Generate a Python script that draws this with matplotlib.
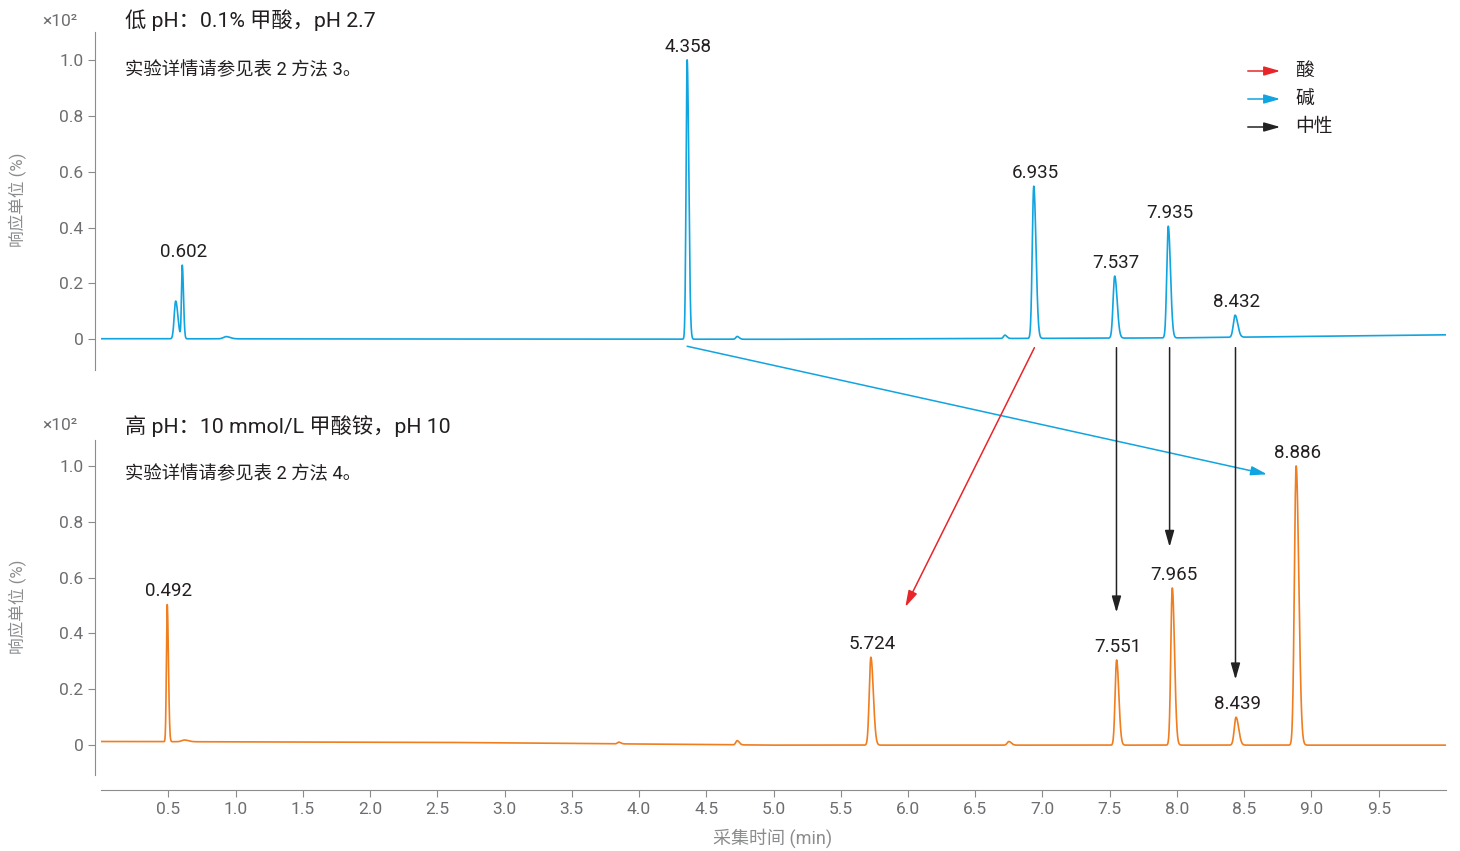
import numpy as np
import matplotlib
matplotlib.use("Agg")
import matplotlib.pyplot as plt
from matplotlib.patches import ConnectionPatch, FancyArrowPatch

plt.rcParams['font.family'] = ['Roboto', 'Noto Sans CJK SC', 'DejaVu Sans']

# === Data ===
# low pH (top): retention time (min), height (x10^2 %), peak width sigma (min)
low_rt = [0.555, 0.604, 0.93, 4.358, 4.73, 6.72, 6.935, 7.537, 7.935, 8.432]
low_h = [0.135, 0.262, 0.008, 1.0, 0.010, 0.012, 0.545, 0.222, 0.400, 0.079]
low_sig = [0.011, 0.006, 0.02, 0.008, 0.01, 0.01, 0.011, 0.012, 0.011, 0.013]
low_base_t = [0.0, 5.0, 8.0, 10.0]
low_base_v = [0.002, 0.0, 0.005, 0.016]
low_labels = ['0.602', '4.358', '6.935', '7.537', '7.935', '8.432']

# high pH (bottom)
high_rt = [0.492, 0.62, 3.85, 4.73, 5.724, 6.75, 7.551, 7.965, 8.439, 8.886]
high_h = [0.492, 0.006, 0.006, 0.015, 0.315, 0.013, 0.305, 0.563, 0.100, 1.0]
high_sig = [0.006, 0.02, 0.01, 0.01, 0.012, 0.012, 0.011, 0.011, 0.013, 0.013]
high_base_t = [0.0, 2.5, 5.0, 10.0]
high_base_v = [0.013, 0.01, 0.0, 0.0]
high_labels = ['0.492', '5.724', '7.551', '7.965', '8.439', '8.886']

# arrows: (start rt on top, start y top, end rt bottom, end y bottom, kind)
arrows = [
    (4.358, -0.025, 8.67, 0.97, 'base'),
    (6.94, -0.03, 5.98, 0.495, 'acid'),
    (7.55, -0.03, 7.55, 0.475, 'neutral'),
    (7.945, -0.03, 7.945, 0.71, 'neutral'),
    (8.435, -0.03, 8.435, 0.235, 'neutral'),
]
legend_names = ['酸', '碱', '中性']
legend_kinds = ['acid', 'base', 'neutral']

BLUE = '#10a4e0'
ORANGE = '#f07d1e'
arrow_col = {'acid': '#e8262a', 'base': '#10a4e0', 'neutral': '#222222'}
GRAY = '#6d6e71'


def trace(t, rts, hs, sigs, bt, bv):
    y = np.interp(t, bt, bv)
    for rt, h, s in zip(rts, hs, sigs):
        sl = np.where(t < rt, s, s * 1.5)  # slight tailing
        y = y + h * np.exp(-0.5 * ((t - rt) / sl) ** 2)
    return y


t = np.linspace(0, 10, 8000)
y_low = trace(t, low_rt, low_h, low_sig, low_base_t, low_base_v)
y_high = trace(t, high_rt, high_h, high_sig, high_base_t, high_base_v)

fig = plt.figure(figsize=(14.6, 8.51), dpi=100)
ax1 = fig.add_axes([0.0692, 0.5652, 0.9212, 0.3972])
ax2 = fig.add_axes([0.0692, 0.0893, 0.9212, 0.3937])


def style(ax, ylim, show_x):
    ax.set_xlim(0, 10)
    ax.set_ylim(*ylim)
    for s in ['top', 'right']:
        ax.spines[s].set_visible(False)
    ax.spines['left'].set_position(('outward', 4.3))
    ax.spines['left'].set_color('#8a8c8e')
    ax.set_yticks([0, 0.2, 0.4, 0.6, 0.8, 1.0])
    ax.set_yticklabels(['0', '0.2', '0.4', '0.6', '0.8', '1.0'])
    ax.tick_params(axis='y', colors='#8a8c8e', labelcolor=GRAY, labelsize=12.5, length=5)
    if show_x:
        ax.spines['bottom'].set_position(('outward', 10.8))
        ax.spines['bottom'].set_color('#8a8c8e')
        ax.set_xticks(np.arange(0.5, 10, 0.5))
        ax.set_xticklabels([f'{v:.1f}' for v in np.arange(0.5, 10, 0.5)])
        ax.tick_params(axis='x', colors='#8a8c8e', labelcolor=GRAY, labelsize=12.5, length=5)
    else:
        ax.spines['bottom'].set_visible(False)
        ax.set_xticks([])


style(ax1, (-0.11, 1.1), False)
style(ax2, (-0.107, 1.093), True)

ax1.plot(t, y_low, color=BLUE, lw=1.2)
ax2.plot(t, y_high, color=ORANGE, lw=1.2)

for ax, y, labels in ((ax1, y_low, low_labels), (ax2, y_high, high_labels)):
    for lab in labels:
        rt = float(lab)
        i = np.argmin(np.abs(t - rt))
        ax.annotate(lab, (rt, y[max(i - 20, 0):i + 20].max()), xytext=(1, 3),
                    textcoords='offset points', ha='center', va='bottom',
                    fontsize=13.5, color='#231f20')

for x0, y0, x1, y1, kind in arrows:
    con = ConnectionPatch(xyA=(x0, y0), coordsA=ax1.transData,
                          xyB=(x1, y1), coordsB=ax2.transData,
                          arrowstyle='-|>,head_length=0.7,head_width=0.2',
                          mutation_scale=14, color=arrow_col[kind], lw=1.1)
    fig.add_artist(con)

# legend made of arrows
for k, (name, kind) in enumerate(zip(legend_names, legend_kinds)):
    yy = (851 - 71 - 28 * k) / 851
    fig.add_artist(FancyArrowPatch((1245 / 1460, yy), (1283 / 1460, yy),
                                   transform=fig.transFigure,
                                   arrowstyle='-|>,head_length=0.7,head_width=0.2',
                                   mutation_scale=14, color=arrow_col[kind], lw=1.1))
    fig.text(1295 / 1460, yy, name, fontsize=13.5, va='center', ha='left', color='#231f20')

fig.text(125 / 1460, (851 - 20) / 851, '低 pH：0.1% 甲酸，pH 2.7', fontsize=15.3,
         va='center', ha='left', color='#231f20')
fig.text(125 / 1460, (851 - 70) / 851, '实验详情请参见表 2 方法 3。', fontsize=13.2,
         va='center', ha='left', color='#231f20')
fig.text(125 / 1460, (851 - 426) / 851, '高 pH：10 mmol/L 甲酸铵，pH 10', fontsize=15.3,
         va='center', ha='left', color='#231f20')
fig.text(125 / 1460, (851 - 474) / 851, '实验详情请参见表 2 方法 4。', fontsize=13.2,
         va='center', ha='left', color='#231f20')

for yy in (22, 425):
    fig.text(60 / 1460, (851 - yy) / 851, '×10²', fontsize=12.5, va='center',
             ha='center', color=GRAY)
for yc in (200, 607):
    fig.text(18 / 1460, (851 - yc) / 851, '响应单位 (%)', fontsize=12, rotation=90,
             va='center', ha='center', color='#8a8c8e')
fig.text(773 / 1460, (851 - 838) / 851, '采集时间 (min)', fontsize=13, va='center',
         ha='center', color='#8a8c8e')

fig.savefig('out.png', dpi=100)
